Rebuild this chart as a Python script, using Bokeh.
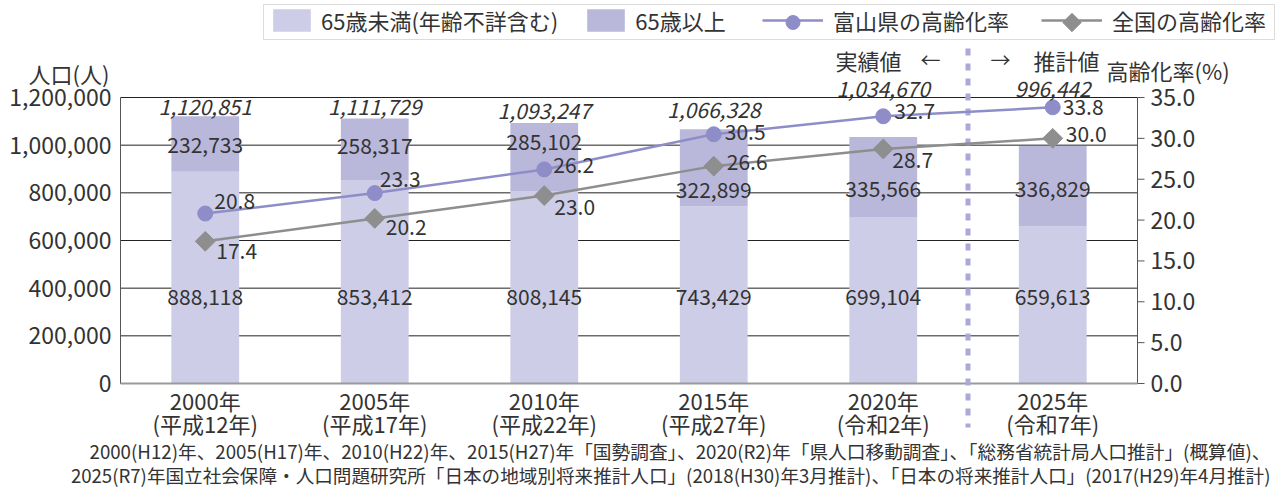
from bokeh.plotting import figure
from bokeh.models import (Range1d, ColumnDataSource, Label, Legend, LegendItem, BoxAnnotation)
from bokeh.core.properties import value
from bokeh.embed import file_html
from bokeh.resources import INLINE
import math

# ---------------- data ----------------
years = ["2000", "2005", "2010", "2015", "2020", "2025"]
year_labels = ["2000年", "2005年", "2010年", "2015年", "2020年", "2025年"]
era_labels = ["(平成12年)", "(平成17年)", "(平成22年)", "(平成27年)", "(令和2年)", "(令和7年)"]
under65 = [888118, 853412, 808145, 743429, 699104, 659613]
over65 = [232733, 258317, 285102, 322899, 335566, 336829]
totals = [1120851, 1111729, 1093247, 1066328, 1034670, 996442]
toyama_rate = [20.8, 23.3, 26.2, 30.5, 32.7, 33.8]
national_rate = [17.4, 20.2, 23.0, 26.6, 28.7, 30.0]
legend_names = ["65歳未満(年齢不詳含む)", "65歳以上", "富山県の高齢化率", "全国の高齢化率"]
left_ticks = [0, 200000, 400000, 600000, 800000, 1000000, 1200000]
right_ticks = [0, 5, 10, 15, 20, 25, 30, 35]
left_title = "人口(人)"
right_title = "高齢化率(%)"
actual_text = "実績値"
estimate_text = "推計値"
footnote_1 = "2000(H12)年、2005(H17)年、2010(H22)年、2015(H27)年「国勢調査」、2020(R2)年「県人口移動調査」、「総務省統計局人口推計」(概算値)、"
footnote_2 = "2025(R7)年国立社会保障・人口問題研究所「日本の地域別将来推計人口」(2018(H30)年3月推計)、「日本の将来推計人口」(2017(H29)年4月推計)"

# ---------------- styles / layout ----------------
FONT = "Noto Sans CJK JP"
TXT = "#333333"
C_UNDER = "#cdcde7"
C_OVER = "#b9b8db"
C_TOYAMA = "#8f8dc8"
C_NATION = "#8e8e8e"
C_DASH = "#aaa9d9"
W, H = 1277, 488
FL, FR, FT, FB = 120, 1137, 97, 383        # plot-area edges in page pixels
N = len(years)
PXX = (FR - FL) / N                          # pixels per category
Y_MAX = left_ticks[-1]
R_MAX = right_ticks[-1]
PXY = (FB - FT) / Y_MAX                      # pixels per person
PXR = (FB - FT) / R_MAX                      # pixels per percent

# label offsets (pixels, positive = up / right)
tot_dy = [9, 12, 12, 19, 48, 57]
over_dy = [-1, 3, 15, -22, -12, -3]
toy_dx = [9, 5, 9, 11, 11, 10]
toy_dy = [13, 14, 4, 2, 5, 0]
nat_dx = [11, 11, 10, 13, 9, 13]
nat_dy = [-10, -9, -11, 4, -11, 4]

idx = list(range(N))
x_left, x_right = -0.5, N - 0.5


def ydata(ypage):
    return (FB - ypage) / PXY


def xdata(xpage):
    return x_left + (xpage - FL) / PXX


src = ColumnDataSource(dict(
    idx=idx, under=under65, over=over65, totals=totals,
    tot_txt=[f"{v:,}" for v in totals],
    tot_dy=[-d for d in tot_dy],
    over_mid=[u + o / 2 for u, o in zip(under65, over65)],
    over_txt=[f"{v:,}" for v in over65],
    over_dy=[-d for d in over_dy],
    under_txt=[f"{v:,}" for v in under65],
    toyama=toyama_rate, nation=national_rate,
    toy_txt=[f"{v:.1f}" for v in toyama_rate],
    nat_txt=[f"{v:.1f}" for v in national_rate],
    toy_dx=toy_dx, toy_dy=[-d for d in toy_dy], nat_dx=nat_dx, nat_dy=[-d for d in nat_dy],
    year_lbl=year_labels, era_lbl=era_labels,
))

p = figure(width=W, height=H,
           x_range=Range1d(x_left - FL / PXX, x_right + (W - FR) / PXX),
           y_range=Range1d(-(H - FB) / PXY, FB / PXY),
           output_backend="svg", toolbar_location=None,
           x_axis_location=None, y_axis_location=None,
           min_border=0, min_border_left=0, min_border_right=0, min_border_top=0, min_border_bottom=0)
p.outline_line_color = None
p.background_fill_color = "white"
p.border_fill_color = "white"
p.grid.visible = False
p.extra_y_ranges = {"rate": Range1d(-(H - FB) / PXR, FB / PXR)}

# grid lines (left axis ticks)
p.segment(x0=x_left, x1=x_right, y0=left_ticks, y1=left_ticks, line_color="#222222", line_width=1)

# bars
bars = p.vbar_stack(["under", "over"], x="idx", width=0.4, source=src,
                    color=[C_UNDER, C_OVER], line_color=None)

# axes lines
p.segment(x0=[x_left], x1=[x_left], y0=[0], y1=[Y_MAX], line_color="#555555", line_width=1)
p.segment(x0=[x_right], x1=[x_right], y0=[0], y1=[R_MAX], y_range_name="rate",
          line_color="#555555", line_width=1)
p.segment(x0=[x_right] * len(right_ticks), x1=[x_right + 7 / PXX] * len(right_ticks),
          y0=right_ticks, y1=right_ticks, y_range_name="rate", line_color="#555555", line_width=1)
p.segment(x0=[x_left], x1=[x_right], y0=[0], y1=[0], line_color="#9a9a9a", line_width=2)

# tick labels
p.text(x=[x_left] * len(left_ticks), y=left_ticks, text=[f"{v:,}" for v in left_ticks],
       x_offset=-9, text_align="right", text_baseline="middle", text_font=value(FONT),
       text_font_size="23px", text_color=TXT)
p.text(x=[x_right] * len(right_ticks), y=right_ticks, text=[f"{v:.1f}" for v in right_ticks],
       y_range_name="rate", x_offset=13, text_align="left", text_baseline="middle",
       text_font=value(FONT), text_font_size="23px", text_color=TXT)
p.text(x="idx", y=ydata(399), text="year_lbl", source=src, text_align="center",
       text_baseline="middle", text_font=value(FONT), text_font_size="22px", text_color=TXT)
p.text(x="idx", y=ydata(422), text="era_lbl", source=src, text_align="center",
       text_baseline="middle", text_font=value(FONT), text_font_size="22px", text_color=TXT)

# dashed divider between actual and estimated values
p.segment(x0=[x_right - 1], x1=[x_right - 1], y0=[ydata(48)], y1=[ydata(427)],
          line_color=C_DASH, line_width=5, line_dash="7 8")

# lines
l_t = p.line("idx", "toyama", source=src, y_range_name="rate", color=C_TOYAMA, line_width=2.5)
m_t = p.scatter("idx", "toyama", source=src, y_range_name="rate", marker="circle", size=15,
                color=C_TOYAMA)
l_n = p.line("idx", "nation", source=src, y_range_name="rate", color=C_NATION, line_width=2.5)
m_n = p.scatter("idx", "nation", source=src, y_range_name="rate", marker="square", size=14,
                angle=math.pi / 4, color=C_NATION)

common = dict(text_font=value(FONT), text_color=TXT, text_baseline="middle", text_font_size="21px")
p.text(x="idx", y="totals", text="tot_txt", y_offset="tot_dy", source=src, text_align="center",
       text_font_style="italic", **common)
p.text(x="idx", y="over_mid", text="over_txt", y_offset="over_dy", source=src,
       text_align="center", **common)
p.text(x="idx", y=ydata(296), text="under_txt", source=src, text_align="center", **common)
p.text(x="idx", y="toyama", text="toy_txt", x_offset="toy_dx", y_offset="toy_dy",
       y_range_name="rate", source=src, text_align="left", **common)
p.text(x="idx", y="nation", text="nat_txt", x_offset="nat_dx", y_offset="nat_dy",
       y_range_name="rate", source=src, text_align="left", **common)


# titles / annotations (screen = page coordinates, y from bottom)
def lab(text, xp, yp, size, align="left"):
    p.add_layout(Label(x=xp, y=H - yp, x_units="screen", y_units="screen", text=text,
                       text_align=align, text_font_size=size, text_font=FONT, text_color=TXT,
                       text_baseline="middle"))


lab(left_title, 28, 72, "22px")
lab(right_title, 1106, 69, "22px")
lab(actual_text, 835, 59, "22px")
lab("←", 920, 59, "20px")
lab("→", 990, 59, "20px")
lab(estimate_text, 1033, 59, "22px")
lab(footnote_1, 1270, 450, "18.7px", "right")
lab(footnote_2, 1270, 474, "18.6px", "right")

# legend frame
p.add_layout(BoxAnnotation(left=263, right=1274, top=H - 4, bottom=H - 39,
                           left_units="screen", right_units="screen", top_units="screen",
                           bottom_units="screen", fill_color="white", fill_alpha=1,
                           line_color="#8a8a8a", line_width=1))

leg_common = dict(orientation="horizontal", padding=0, margin=0, border_line_color=None,
                  background_fill_alpha=0, label_text_font=FONT, label_text_font_size="22px",
                  label_text_color=TXT, glyph_height=28, label_height=28)
legA = Legend(items=[LegendItem(label=legend_names[0], renderers=[bars[0]]),
                     LegendItem(label=legend_names[1], renderers=[bars[1]])],
              location=(268, H - 36), glyph_width=47, label_standoff=6, spacing=24, **leg_common)
legB = Legend(items=[LegendItem(label=legend_names[2], renderers=[l_t]),
                     LegendItem(label=legend_names[3], renderers=[l_n])],
              location=(762, H - 36), glyph_width=61, label_standoff=10, spacing=32, **leg_common)
p.add_layout(legA)
p.add_layout(legB)

# legend markers (drawn at the centre of each legend line sample)
LEG_Y = ydata(22)
p.scatter(x=[xdata(762 + 61 / 2)], y=[LEG_Y], marker="circle", size=14, color=C_TOYAMA,
          level="overlay")
p.scatter(x=[xdata(1041 + 61 / 2)], y=[LEG_Y], marker="square", size=13, angle=math.pi / 4,
          color=C_NATION, level="overlay")

open("out.html", "w").write(file_html(p, INLINE))
